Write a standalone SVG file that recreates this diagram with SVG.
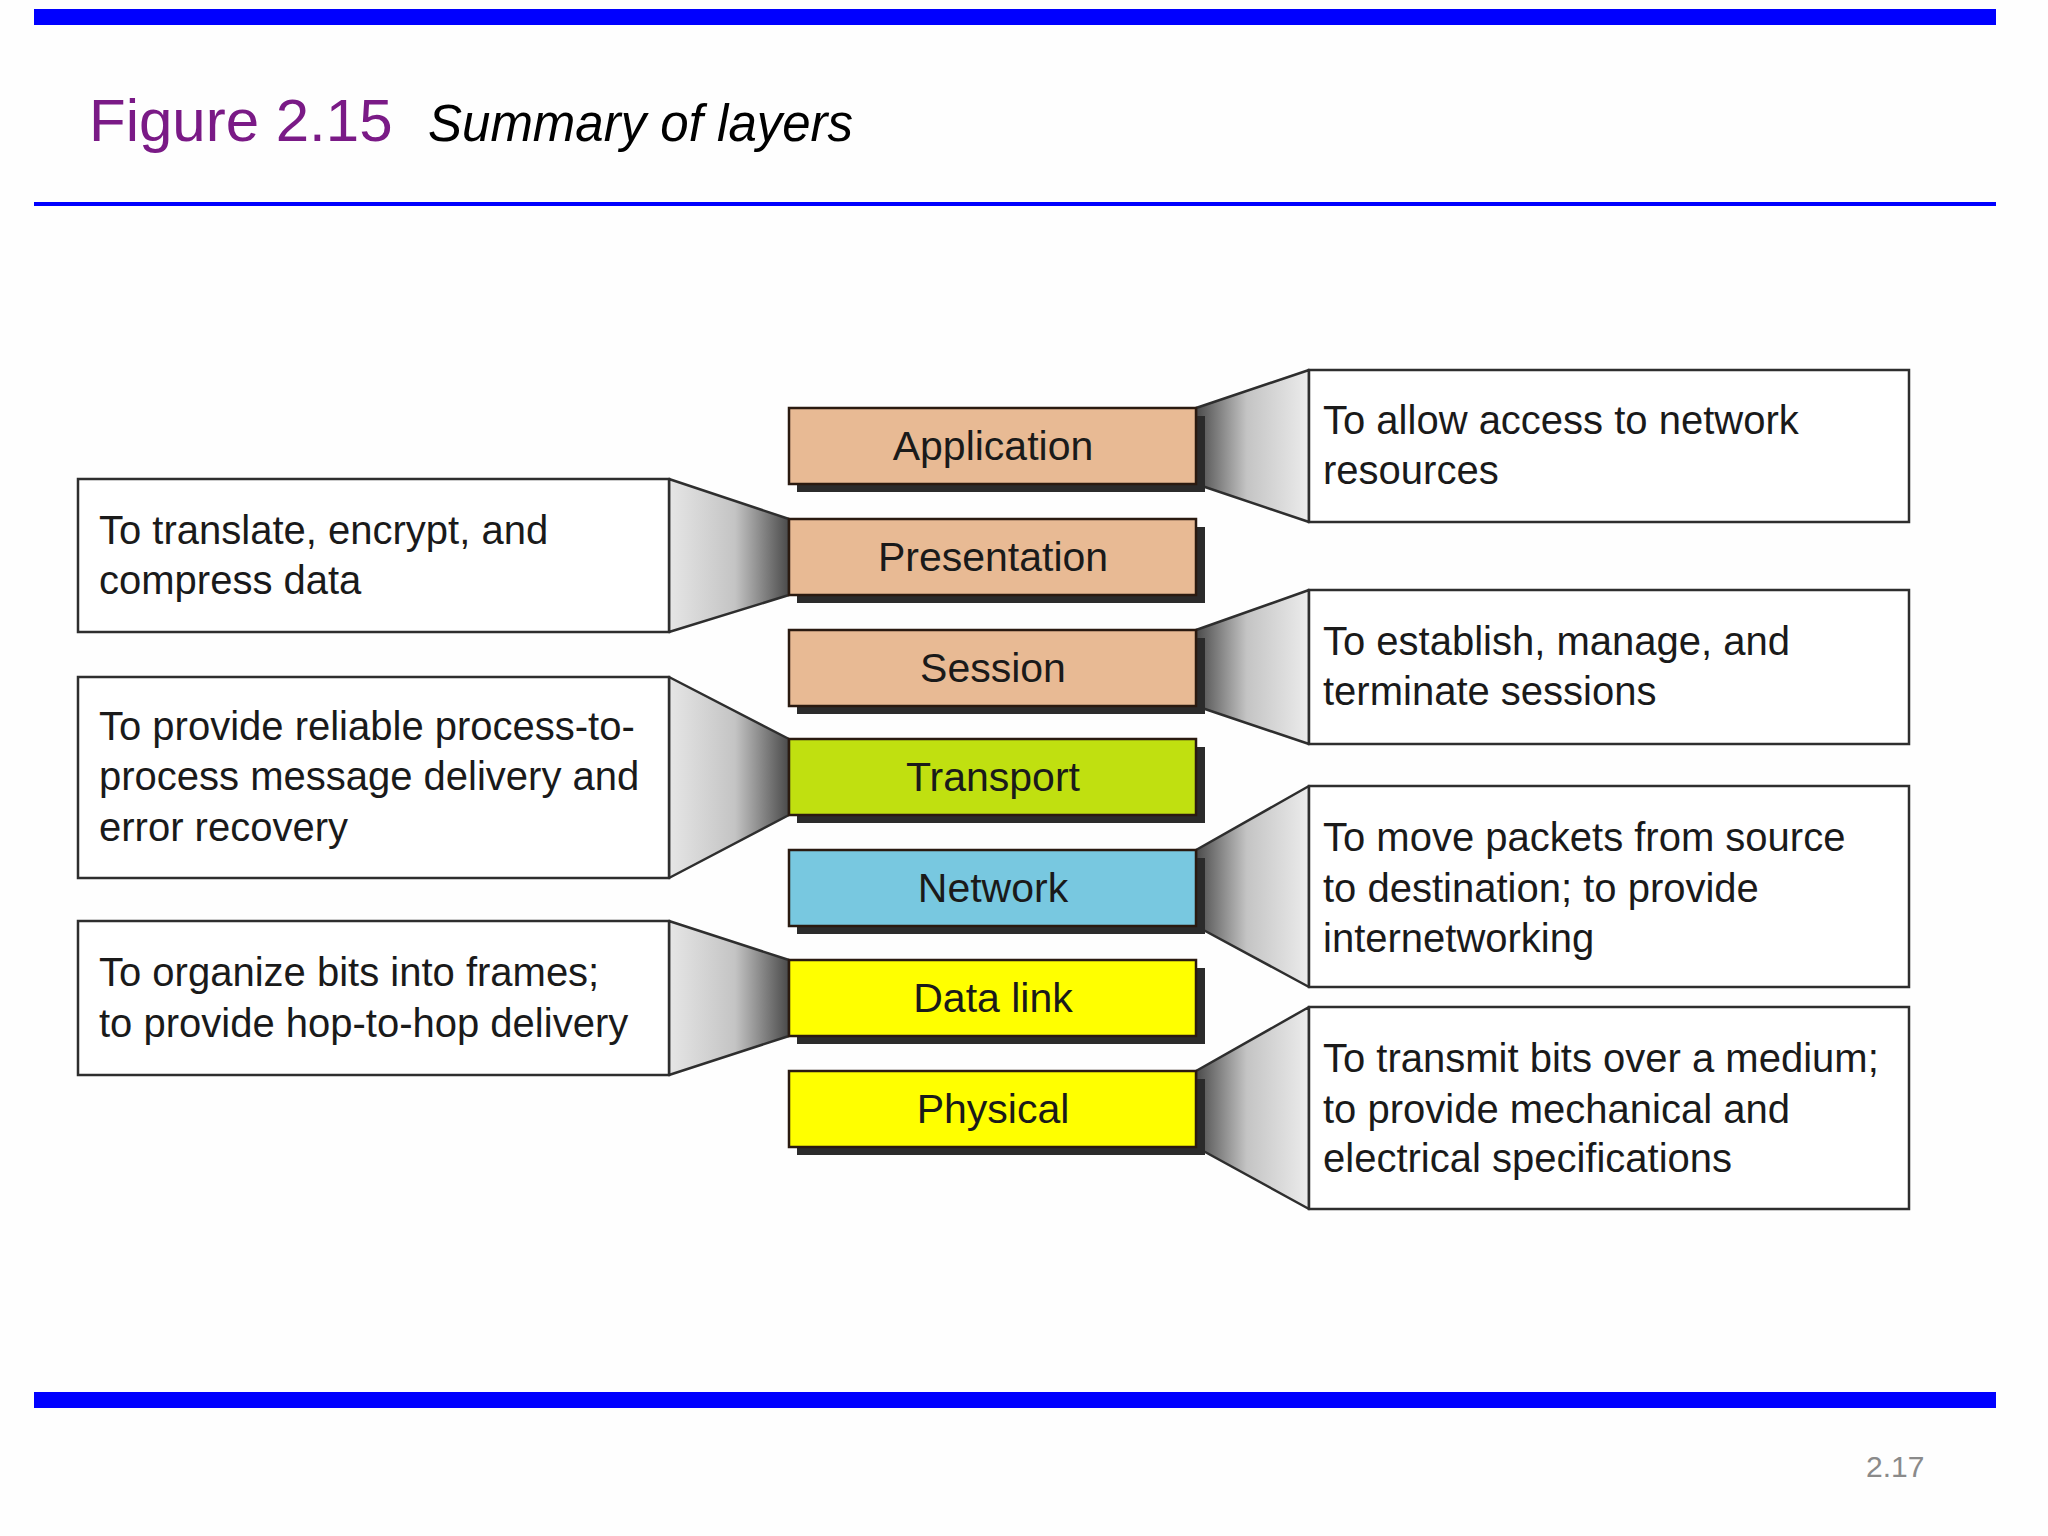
<svg xmlns="http://www.w3.org/2000/svg" width="2048" height="1536" viewBox="0 0 2048 1536">
<defs>
<linearGradient id="gL" x1="0" y1="0" x2="1" y2="0">
<stop offset="0" stop-color="#e6e6e6"/><stop offset="0.55" stop-color="#c4c4c4"/><stop offset="1" stop-color="#4a4a4a"/>
</linearGradient>
<linearGradient id="gR" x1="0" y1="0" x2="1" y2="0">
<stop offset="0" stop-color="#4a4a4a"/><stop offset="0.45" stop-color="#c4c4c4"/><stop offset="1" stop-color="#ececec"/>
</linearGradient>
<style>
.bar{fill:#0000ff}
.desc{fill:#ffffff;stroke:#2e2e2e;stroke-width:2.5}
.dt{font-family:"Liberation Sans",Arial,sans-serif;font-size:40px;fill:#1a1a1a}
.lt{font-family:"Liberation Sans",Arial,sans-serif;font-size:41px;fill:#1a1a1a;text-anchor:middle}
.shadow{fill:#2b2b2b}
.layer{stroke:#2a1a10;stroke-width:2.5}
.tan{fill:#e8ba94}
.lime{fill:#c0e010}
.blue{fill:#78c8e0}
.yel{fill:#ffff00}
.trL{fill:url(#gL);stroke:#2e2e2e;stroke-width:2.5;stroke-linejoin:round}
.trR{fill:url(#gR);stroke:#2e2e2e;stroke-width:2.5;stroke-linejoin:round}
</style>
</defs>
<rect width="2048" height="1536" fill="#fefefe"/>
<rect class="bar" x="34" y="9" width="1962" height="16"/>
<rect class="bar" x="34" y="202" width="1962" height="4"/>
<rect class="bar" x="34" y="1392" width="1962" height="16"/>
<text x="89" y="141" font-family="Liberation Sans,Arial,sans-serif" font-size="60" fill="#7a1a86">Figure 2.15</text>
<text x="428" y="141" font-family="Liberation Sans,Arial,sans-serif" font-size="51" font-style="italic" fill="#000">Summary of layers</text>
<text x="1866" y="1477" font-family="Liberation Sans,Arial,sans-serif" font-size="30" fill="#8a8a8a">2.17</text>

<g id="connectors">
<polygon class="trR" points="1196,408 1309,370 1309,522 1196,484"/>
<polygon class="trL" points="669,479 789,519 789,595 669,632"/>
<polygon class="trR" points="1196,630 1309,590 1309,744 1196,706"/>
<polygon class="trL" points="669,677 789,739 789,815 669,878"/>
<polygon class="trR" points="1196,850 1309,786 1309,987 1196,926"/>
<polygon class="trL" points="669,921 789,960 789,1036 669,1075"/>
<polygon class="trR" points="1196,1071 1309,1007 1309,1209 1196,1147"/>
</g>

<g id="application">
<rect class="shadow" x="797" y="416" width="408" height="76"/>
<rect class="layer tan" x="789" y="408" width="407" height="76"/>
<text class="lt" x="993" y="460">Application</text>
</g>
<g id="presentation">
<rect class="shadow" x="797" y="527" width="408" height="76"/>
<rect class="layer tan" x="789" y="519" width="407" height="76"/>
<text class="lt" x="993" y="571">Presentation</text>
</g>
<g id="session">
<rect class="shadow" x="797" y="638" width="408" height="76"/>
<rect class="layer tan" x="789" y="630" width="407" height="76"/>
<text class="lt" x="993" y="682">Session</text>
</g>
<g id="transport">
<rect class="shadow" x="797" y="747" width="408" height="76"/>
<rect class="layer lime" x="789" y="739" width="407" height="76"/>
<text class="lt" x="993" y="791">Transport</text>
</g>
<g id="network">
<rect class="shadow" x="797" y="858" width="408" height="76"/>
<rect class="layer blue" x="789" y="850" width="407" height="76"/>
<text class="lt" x="993" y="902">Network</text>
</g>
<g id="datalink">
<rect class="shadow" x="797" y="968" width="408" height="76"/>
<rect class="layer yel" x="789" y="960" width="407" height="76"/>
<text class="lt" x="993" y="1012">Data link</text>
</g>
<g id="physical">
<rect class="shadow" x="797" y="1079" width="408" height="76"/>
<rect class="layer yel" x="789" y="1071" width="407" height="76"/>
<text class="lt" x="993" y="1123">Physical</text>
</g>

<g id="desc-application">
<rect class="desc" x="1309" y="370" width="600" height="152"/>
<text class="dt" x="1323" y="434">To allow access to network</text>
<text class="dt" x="1323" y="484">resources</text>
</g>
<g id="desc-presentation">
<rect class="desc" x="78" y="479" width="591" height="153"/>
<text class="dt" x="99" y="544">To translate, encrypt, and</text>
<text class="dt" x="99" y="594">compress data</text>
</g>
<g id="desc-session">
<rect class="desc" x="1309" y="590" width="600" height="154"/>
<text class="dt" x="1323" y="655">To establish, manage, and</text>
<text class="dt" x="1323" y="705">terminate sessions</text>
</g>
<g id="desc-transport">
<rect class="desc" x="78" y="677" width="591" height="201"/>
<text class="dt" x="99" y="740">To provide reliable process-to-</text>
<text class="dt" x="99" y="790">process message delivery and</text>
<text class="dt" x="99" y="841">error recovery</text>
</g>
<g id="desc-network">
<rect class="desc" x="1309" y="786" width="600" height="201"/>
<text class="dt" x="1323" y="851">To move packets from source</text>
<text class="dt" x="1323" y="902">to destination; to provide</text>
<text class="dt" x="1323" y="952">internetworking</text>
</g>
<g id="desc-datalink">
<rect class="desc" x="78" y="921" width="591" height="154"/>
<text class="dt" x="99" y="986">To organize bits into frames;</text>
<text class="dt" x="99" y="1037">to provide hop-to-hop delivery</text>
</g>
<g id="desc-physical">
<rect class="desc" x="1309" y="1007" width="600" height="202"/>
<text class="dt" x="1323" y="1072">To transmit bits over a medium;</text>
<text class="dt" x="1323" y="1123">to provide mechanical and</text>
<text class="dt" x="1323" y="1172">electrical specifications</text>
</g>
</svg>
